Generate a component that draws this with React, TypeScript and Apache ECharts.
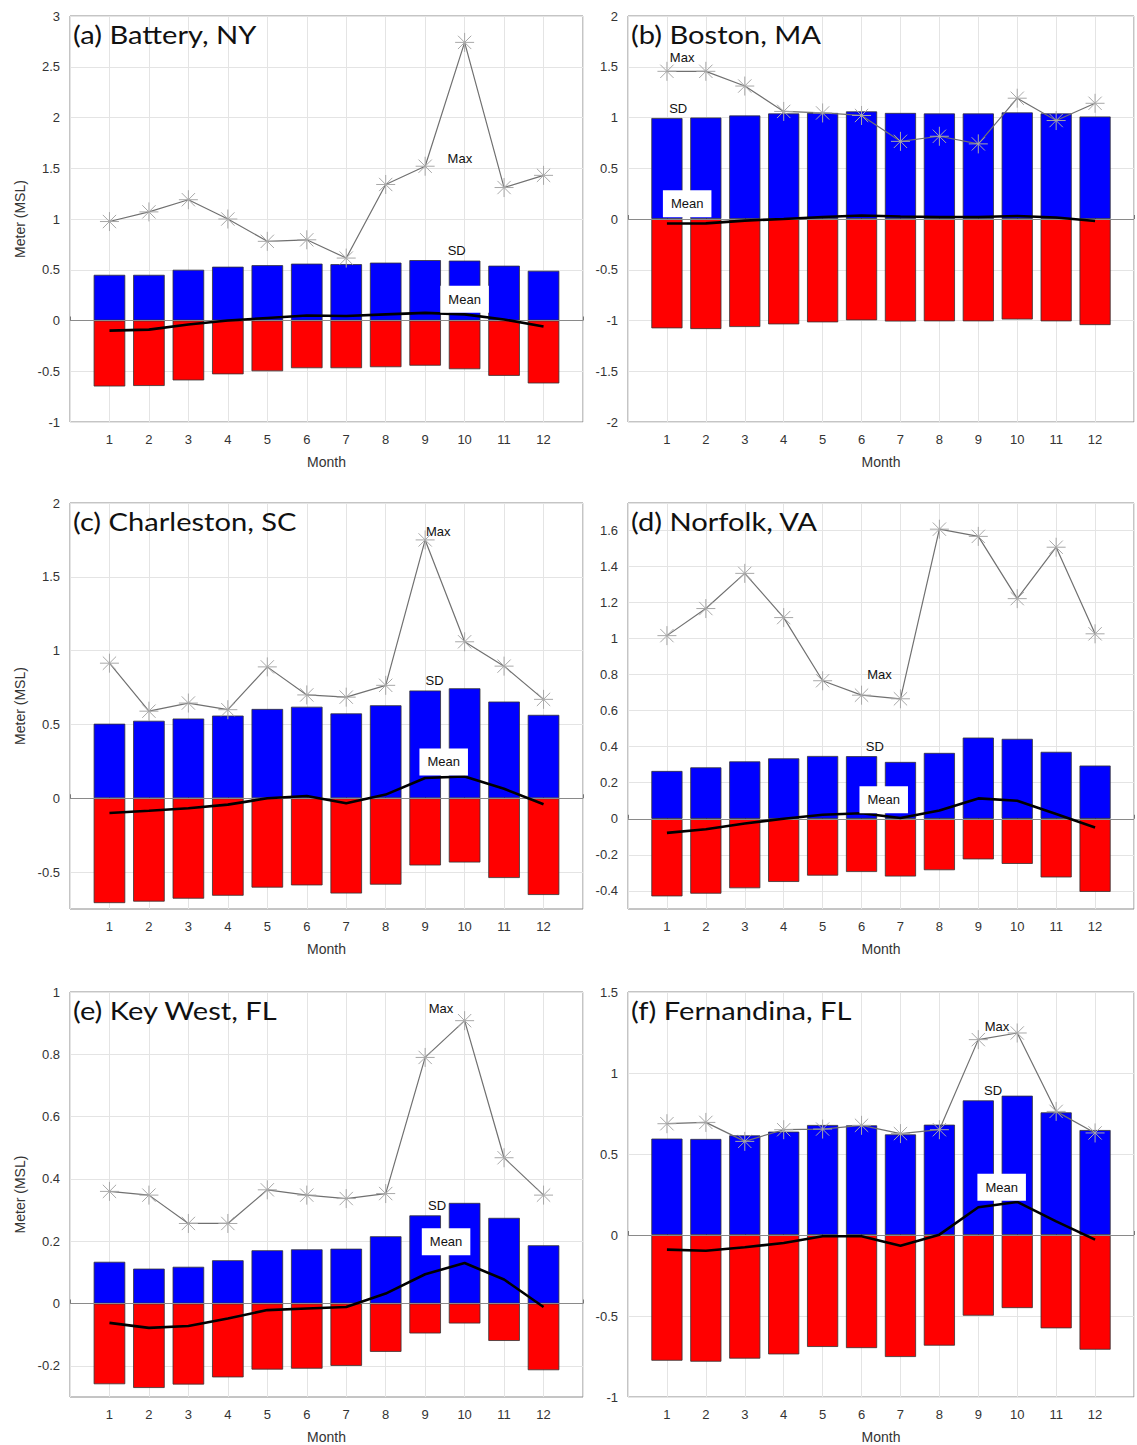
import React, { useEffect, useRef } from "react";
import * as echarts from "echarts";

const months = [1, 2, 3, 4, 5, 6, 7, 8, 9, 10, 11, 12];
const titles = [
  "(a) Battery, NY",
  "(b) Boston, MA",
  "(c) Charleston, SC",
  "(d) Norfolk, VA",
  "(e) Key West, FL",
  "(f) Fernandina, FL",
];

// (a) Battery, NY
const batteryMax = [0.975, 1.07, 1.19, 1.0, 0.78, 0.795, 0.615, 1.34, 1.52, 2.74, 1.31, 1.43];
const batteryUpper = [0.45, 0.45, 0.5, 0.53, 0.545, 0.56, 0.555, 0.57, 0.595, 0.59, 0.54, 0.49];
const batteryLower = [-0.65, -0.645, -0.59, -0.53, -0.5, -0.47, -0.47, -0.46, -0.445, -0.48, -0.545, -0.62];
const batteryMean = [-0.1, -0.09, -0.04, 0.0, 0.025, 0.05, 0.045, 0.06, 0.075, 0.06, 0.01, -0.06];

// (b) Boston, MA
const bostonMax = [1.455, 1.455, 1.31, 1.06, 1.045, 1.02, 0.765, 0.815, 0.74, 1.19, 0.97, 1.14];
const bostonUpper = [0.995, 1.0, 1.02, 1.04, 1.045, 1.06, 1.045, 1.04, 1.04, 1.05, 1.04, 1.01];
const bostonLower = [-1.077, -1.084, -1.064, -1.038, -1.018, -0.998, -1.01, -1.008, -1.008, -0.99, -1.008, -1.045];
const bostonMean = [-0.045, -0.043, -0.016, 0.0, 0.02, 0.035, 0.025, 0.02, 0.02, 0.03, 0.015, -0.02];

// (c) Charleston, SC
const charlestonMax = [0.915, 0.59, 0.645, 0.6, 0.89, 0.7, 0.685, 0.765, 1.75, 1.06, 0.895, 0.67];
const charlestonUpper = [0.505, 0.525, 0.54, 0.56, 0.605, 0.62, 0.575, 0.63, 0.73, 0.745, 0.655, 0.565];
const charlestonLower = [-0.71, -0.7, -0.68, -0.66, -0.605, -0.59, -0.645, -0.585, -0.455, -0.435, -0.54, -0.655];
const charlestonMean = [-0.1, -0.085, -0.068, -0.043, 0.0, 0.015, -0.034, 0.025, 0.137, 0.148, 0.064, -0.04];

// (d) Norfolk, VA
const norfolkMax = [1.015, 1.165, 1.36, 1.115, 0.765, 0.685, 0.665, 1.605, 1.565, 1.22, 1.505, 1.025];
const norfolkUpper = [0.265, 0.285, 0.318, 0.335, 0.348, 0.347, 0.315, 0.365, 0.45, 0.443, 0.371, 0.295];
const norfolkLower = [-0.43, -0.415, -0.385, -0.35, -0.315, -0.295, -0.32, -0.285, -0.225, -0.25, -0.325, -0.405];
const norfolkMean = [-0.078, -0.058, -0.026, 0.0, 0.022, 0.031, 0.004, 0.046, 0.113, 0.1, 0.027, -0.048];

// (e) Key West, FL
const keyWestMax = [0.36, 0.348, 0.257, 0.257, 0.365, 0.348, 0.337, 0.353, 0.79, 0.908, 0.468, 0.348];
const keyWestUpper = [0.134, 0.112, 0.118, 0.139, 0.171, 0.174, 0.176, 0.216, 0.283, 0.323, 0.275, 0.187];
const keyWestLower = [-0.259, -0.271, -0.26, -0.237, -0.212, -0.209, -0.2, -0.155, -0.096, -0.064, -0.12, -0.214];
const keyWestMean = [-0.062, -0.078, -0.072, -0.048, -0.021, -0.016, -0.011, 0.032, 0.094, 0.13, 0.077, -0.011];

// (f) Fernandina, FL
const fernandinaMax = [0.687, 0.695, 0.578, 0.65, 0.654, 0.677, 0.626, 0.65, 1.206, 1.247, 0.763, 0.63];
const fernandinaUpper = [0.595, 0.593, 0.615, 0.638, 0.679, 0.677, 0.621, 0.681, 0.831, 0.86, 0.757, 0.648];
const fernandinaLower = [-0.776, -0.782, -0.763, -0.737, -0.691, -0.698, -0.753, -0.683, -0.498, -0.451, -0.576, -0.708];
const fernandinaMean = [-0.09, -0.097, -0.076, -0.049, -0.008, -0.008, -0.066, 0.002, 0.171, 0.204, 0.084, -0.029];

// y-axis ranges: [min, max, tick step]
const yRanges = [
  [-1, 3, 0.5],
  [-2, 2, 0.5],
  [-0.75, 2, 0.5],
  [-0.5, 1.75, 0.2],
  [-0.3, 1, 0.2],
  [-1, 1.5, 0.5],
];

// in-plot annotation labels: [text, month, value]
const batteryNotes = [["Max", 9.88, 1.6], ["SD", 9.8, 0.69], ["Mean", 10.0, 0.21]];
const bostonNotes = [["Max", 1.39, 1.59], ["SD", 1.29, 1.09], ["Mean", 1.52, 0.15]];
const charlestonNotes = [["Max", 9.33, 1.81], ["SD", 9.24, 0.8], ["Mean", 9.47, 0.246]];
const norfolkNotes = [["Max", 6.46, 0.8], ["SD", 6.34, 0.4], ["Mean", 6.57, 0.106]];
const keyWestNotes = [["Max", 9.4, 0.947], ["SD", 9.3, 0.316], ["Mean", 9.53, 0.198]];
const fernandinaNotes = [["Max", 9.48, 1.29], ["SD", 9.38, 0.89], ["Mean", 9.6, 0.294]];

const panelData = [
  { max: batteryMax, upper: batteryUpper, lower: batteryLower, mean: batteryMean, notes: batteryNotes },
  { max: bostonMax, upper: bostonUpper, lower: bostonLower, mean: bostonMean, notes: bostonNotes },
  { max: charlestonMax, upper: charlestonUpper, lower: charlestonLower, mean: charlestonMean, notes: charlestonNotes },
  { max: norfolkMax, upper: norfolkUpper, lower: norfolkLower, mean: norfolkMean, notes: norfolkNotes },
  { max: keyWestMax, upper: keyWestUpper, lower: keyWestLower, mean: keyWestMean, notes: keyWestNotes },
  { max: fernandinaMax, upper: fernandinaUpper, lower: fernandinaLower, mean: fernandinaMean, notes: fernandinaNotes },
];

const SANS = "'Liberation Sans', Arial, sans-serif";
const GRID_COLOR = "#e4e4e4";
const ASTERISK = "path://M10 0L10 20M0 10L20 10M3 3L17 17M3 17L17 3";

const colLeft = [70, 628];
const rowTop = [16, 503, 992];
const plotW = 513;
const plotH = 406;

function buildOption() {
  const grid: any[] = [];
  const xAxis: any[] = [];
  const yAxis: any[] = [];
  const series: any[] = [];
  const graphic: any[] = [];

  panelData.forEach((p, i) => {
    const col = i % 2;
    const row = Math.floor(i / 2);
    const left = colLeft[col];
    const top = rowTop[row];
    grid.push({
      left,
      top,
      width: plotW,
      height: plotH,
      show: true,
      borderColor: "#8a8a8a",
      borderWidth: 1,
      backgroundColor: "transparent",
    });

    const [yMin, yMax, major] = yRanges[i];
    const ratioMin = Math.abs(yMin / major - Math.round(yMin / major)) < 1e-9;
    const interval = ratioMin ? major : major / 2;
    const k = Math.round(major / interval);
    const firstMajor = Math.ceil(yMin / major - 1e-9) * major;
    const offset = Math.round((firstMajor - yMin) / interval) % k;
    const lineColors: string[] = [];
    for (let j = 0; j < k; j++) lineColors.push(j === offset ? GRID_COLOR : "rgba(0,0,0,0)");

    xAxis.push({
      gridIndex: i,
      type: "value",
      min: 0,
      max: 13,
      interval: 1,
      axisLine: { show: false },
      axisTick: { show: true, inside: true, length: 4, lineStyle: { color: "#777" } },
      axisLabel: {
        formatter: (v: number) => (v >= 1 && v <= 12 ? String(v) : ""),
        color: "#333333",
        fontSize: 13,
        fontFamily: SANS,
        margin: 11,
      },
      splitLine: { show: true, lineStyle: { color: GRID_COLOR, width: 1 } },
      name: "Month",
      nameLocation: "middle",
      nameGap: 33,
      nameTextStyle: { color: "#333333", fontSize: 14, fontFamily: SANS },
    });

    yAxis.push({
      gridIndex: i,
      type: "value",
      min: yMin,
      max: yMax,
      interval,
      axisLine: { show: false },
      axisTick: { show: false },
      axisLabel: {
        formatter: (v: number) => {
          const r = Math.round(v / major);
          if (Math.abs(r * major - v) > 1e-6) return "";
          const val = Math.round(r * major * 1000) / 1000;
          return String(val);
        },
        color: "#333333",
        fontSize: 13,
        fontFamily: SANS,
        margin: 10,
      },
      splitLine: { show: true, lineStyle: { color: lineColors, width: 1 } },
      name: col === 0 ? "Meter (MSL)" : "",
      nameLocation: "middle",
      nameGap: 43,
      nameTextStyle: { color: "#333333", fontSize: 14, fontFamily: SANS },
    });

    series.push({
      type: "bar",
      xAxisIndex: i,
      yAxisIndex: i,
      data: months.map((m, j) => [m, p.upper[j]]),
      barWidth: "80%",
      barGap: "-100%",
      itemStyle: { color: "#0000ff", borderColor: "#333", borderWidth: 0.8 },
      z: 2,
      silent: true,
    });
    series.push({
      type: "bar",
      xAxisIndex: i,
      yAxisIndex: i,
      data: months.map((m, j) => [m, p.lower[j]]),
      barWidth: "80%",
      barGap: "-100%",
      itemStyle: { color: "#ff0000", borderColor: "#333", borderWidth: 0.8 },
      z: 2,
      silent: true,
      markLine: {
        silent: true,
        symbol: "none",
        label: { show: false },
        lineStyle: { color: "#8a8a8a", width: 1, type: "solid" },
        data: [{ yAxis: 0 }],
      },
    });
    series.push({
      type: "line",
      xAxisIndex: i,
      yAxisIndex: i,
      data: months.map((m, j) => [m, p.max[j]]),
      symbol: ASTERISK,
      symbolSize: 19,
      showAllSymbol: true,
      lineStyle: { color: "#707070", width: 1.2 },
      itemStyle: { color: "rgba(0,0,0,0)", borderColor: "#a8a8a8", borderWidth: 1 },
      z: 4,
      silent: true,
    });
    series.push({
      type: "line",
      xAxisIndex: i,
      yAxisIndex: i,
      data: months.map((m, j) => [m, p.mean[j]]),
      symbol: "none",
      lineStyle: { color: "#000", width: 2.6 },
      z: 5,
      silent: true,
    });
    series.push({
      type: "scatter",
      xAxisIndex: i,
      yAxisIndex: i,
      symbolSize: 0,
      silent: true,
      z: 10,
      itemStyle: { opacity: 1 },
      data: p.notes.map((n: any) => ({
        name: n[0],
        value: [n[1], n[2]],
        label:
          n[0] === "Mean"
            ? { backgroundColor: "#ffffff", padding: [7, 8] }
            : { backgroundColor: "transparent", padding: 0 },
      })),
      label: {
        show: true,
        position: "inside",
        formatter: (d: any) => d.name,
        color: "#111",
        opacity: 1,
        fontSize: 13,
        fontFamily: SANS,
      },
    });

    graphic.push({
      type: "text",
      x: left + 3,
      y: top + 5,
      scaleX: 1.12,
      z: 20,
      style: {
        text: titles[i],
        font: "26px Lato",
        fill: "#111111",
        textAlign: "left",
        textVerticalAlign: "top",
      },
    });
  });

  return {
    animation: false,
    backgroundColor: "#ffffff",
    grid,
    xAxis,
    yAxis,
    series,
    graphic,
  };
}

export default function App() {
  const ref = useRef<HTMLDivElement>(null);
  useEffect(() => {
    if (!ref.current) return;
    const chart = echarts.init(ref.current, undefined, { renderer: "svg" });
    chart.setOption(buildOption() as any);
    return () => chart.dispose();
  }, []);
  return (
    <div
      ref={ref}
      style={{ position: "absolute", left: 0, top: 0, width: 1137, height: 1445 }}
    />
  );
}
